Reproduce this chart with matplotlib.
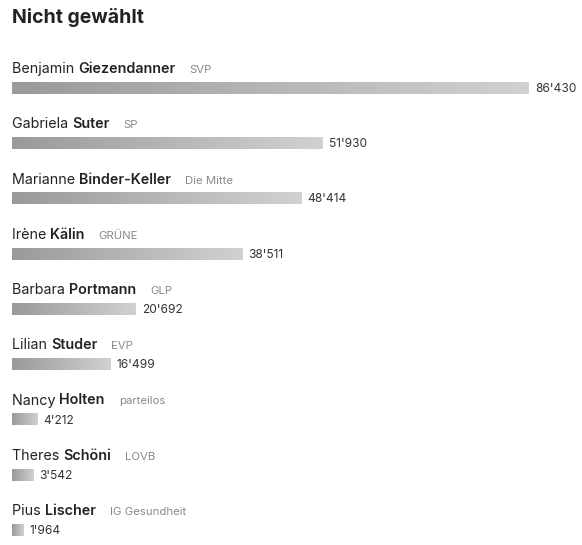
import numpy as np
import matplotlib
matplotlib.use("Agg")
import matplotlib.pyplot as plt
from matplotlib.colors import LinearSegmentedColormap

title = "Nicht gewählt"
first_names = ["Benjamin", "Gabriela", "Marianne", "Irène", "Barbara",
               "Lilian", "Nancy", "Theres", "Pius"]
last_names = ["Giezendanner", "Suter", "Binder-Keller", "Kälin", "Portmann",
              "Studer", "Holten", "Schöni", "Lischer"]
parties = ["SVP", "SP", "Die Mitte", "GRÜNE", "GLP", "EVP", "parteilos",
           "LOVB", "IG Gesundheit"]
votes = [86430, 51930, 48414, 38511, 20692, 16499, 4212, 3542, 1964]

W, H = 582, 545
fig = plt.figure(figsize=(W / 100, H / 100), dpi=100)
plt.rcParams['font.family'] = ['Inter', 'DejaVu Sans']

# x axis in votes, y axis in pixels from the top
left_px, right_px = 12, 529
ax = fig.add_axes([left_px / W, 0, (right_px - left_px) / W, 1])
ax.set_xlim(0, max(votes))
ax.set_ylim(H, 0)
ax.axis('off')

cmap = LinearSegmentedColormap.from_list("grey", ["#9a9a9a", "#d1d1d1"])
grad = np.linspace(0, 1, 256).reshape(1, -1)

fig.text(left_px / W, 1 - 23 / H, title, fontsize=14, fontweight='bold',
         color='#222222', va='baseline', ha='left')

renderer = fig.canvas.get_renderer()
inv = ax.transData.inverted()

for i, (fn, ln, pt, v) in enumerate(zip(first_names, last_names, parties, votes)):
    yc = 88 + 55.25 * i
    bar_h = 12
    ax.imshow(grad, cmap=cmap, aspect='auto', interpolation='bilinear',
              extent=[0, v, yc + bar_h / 2, yc - bar_h / 2])

    # name line: first name regular, last name bold, party grey
    yb = yc - 15
    t1 = ax.text(0, yb, fn + " ", fontsize=10.3, color='#222222',
                 va='baseline', ha='left')
    x1 = inv.transform((t1.get_window_extent(renderer).x1, 0))[0]
    t2 = ax.text(x1, yb, ln, fontsize=10.3, fontweight='semibold',
                 color='#222222', va='baseline', ha='left')
    x2px = t2.get_window_extent(renderer).x1 + 14
    x2 = inv.transform((x2px, 0))[0]
    ax.text(x2, yb, pt, fontsize=8.2, color='#8a8a8a',
            va='baseline', ha='left')

    # value label right of the bar
    endpx = ax.transData.transform((v, 0))[0] + 6
    xv = inv.transform((endpx, 0))[0]
    ax.text(xv, yc + 1, f"{v:,}".replace(",", "'"), fontsize=8.6,
            color='#333333', va='center', ha='left')

ax.set_xlim(0, max(votes))
ax.set_ylim(H, 0)
fig.savefig("out.png", dpi=100, facecolor='white')
